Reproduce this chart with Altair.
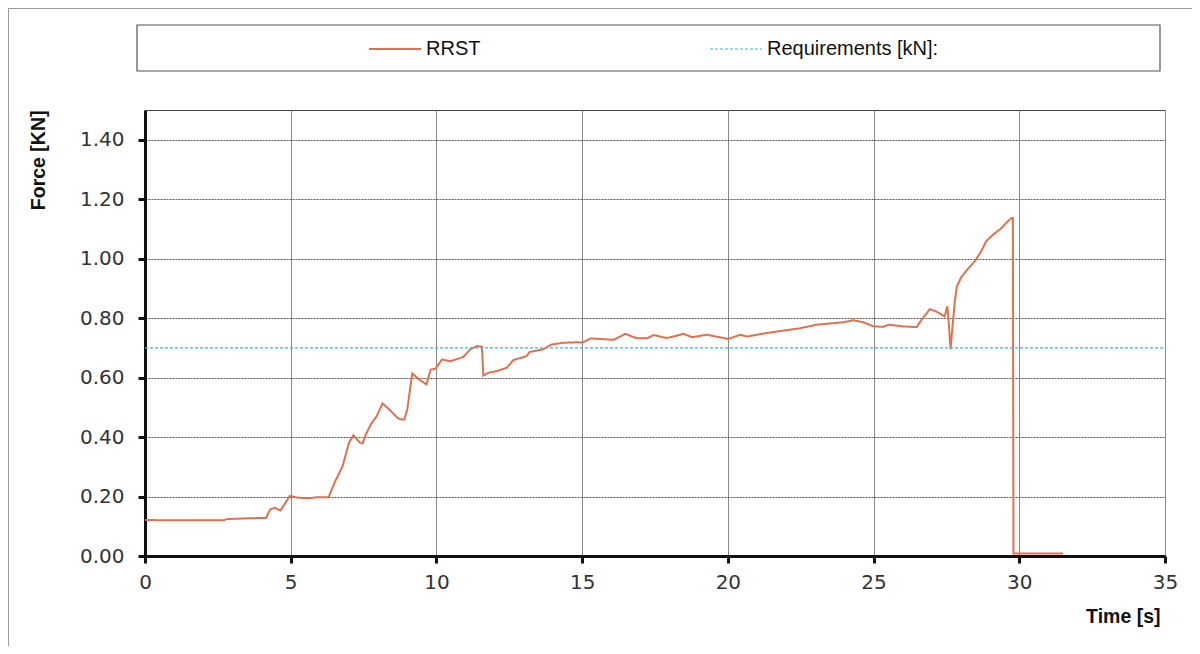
import altair as alt
import pandas as pd

# --- data ---
time_s = [0, 1, 2, 2.7, 2.8, 3.6, 4.15, 4.3, 4.45, 4.65, 4.97, 5.25, 5.6, 5.95, 6.3,
          6.5, 6.78, 7.0, 7.15, 7.38, 7.47, 7.58, 7.75, 7.95, 8.15, 8.38, 8.66, 8.75,
          8.9, 9.0, 9.17, 9.4, 9.66, 9.8, 9.97, 10.19, 10.48, 10.7, 10.93, 11.16, 11.39,
          11.56, 11.61, 11.78, 12.07, 12.41, 12.64, 13.09, 13.2, 13.66, 13.94, 14.34,
          14.9, 15.0, 15.29, 16.08, 16.48, 16.88, 17.23, 17.45, 17.9, 18.25, 18.48,
          18.77, 19.28, 20.02, 20.42, 20.65, 21.34, 21.9, 22.48, 23.05, 23.96, 24.3,
          24.65, 25.0, 25.34, 25.51, 26.02, 26.48, 26.65, 26.93, 27.16, 27.44, 27.53,
          27.58, 27.64, 27.7, 27.78, 27.86, 28.01, 28.24, 28.47, 28.69, 28.86, 29.09,
          29.38, 29.6, 29.74, 29.78, 29.8, 31.5]
rrst_kn = [0.121, 0.12, 0.12, 0.12, 0.124, 0.127, 0.128, 0.157, 0.162, 0.153, 0.202,
           0.196, 0.194, 0.198, 0.198, 0.246, 0.302, 0.381, 0.406, 0.381, 0.379, 0.409,
           0.443, 0.47, 0.513, 0.493, 0.465, 0.46, 0.459, 0.493, 0.614, 0.594, 0.577,
           0.627, 0.63, 0.661, 0.655, 0.662, 0.67, 0.695, 0.706, 0.704, 0.607, 0.616,
           0.622, 0.633, 0.659, 0.672, 0.686, 0.695, 0.711, 0.717, 0.719, 0.717, 0.732,
           0.727, 0.747, 0.732, 0.732, 0.743, 0.733, 0.741, 0.747, 0.736, 0.744, 0.73,
           0.744, 0.738, 0.75, 0.758, 0.766, 0.778, 0.786, 0.793, 0.786, 0.772, 0.771,
           0.778, 0.772, 0.77, 0.795, 0.83, 0.822, 0.806, 0.84, 0.785, 0.695, 0.762,
           0.85, 0.907, 0.938, 0.966, 0.991, 1.024, 1.058, 1.08, 1.102, 1.125, 1.137,
           1.137, 0.008, 0.008]
req_time = [0, 35]
req_kn = [0.70, 0.70]

series_names = ["RRST", "Requirements [kN]:"]
series_colors = ["#DE7150", "#3FB4D8"]

x_ticks = [0, 5, 10, 15, 20, 25, 30, 35]
y_ticks = [0, 0.2, 0.4, 0.6, 0.8, 1.0, 1.2, 1.4]

df = pd.concat([
    pd.DataFrame({"t": time_s, "v": rrst_kn, "s": series_names[0]}),
    pd.DataFrame({"t": req_time, "v": req_kn, "s": series_names[1]}),
], ignore_index=True)

one = pd.DataFrame({"k": [0]})

lines = alt.Chart(df).mark_line(interpolate="linear").encode(
    x=alt.X("t:Q",
            scale=alt.Scale(domain=[0, 35], nice=False),
            axis=alt.Axis(values=x_ticks, title="Time [s]", format="d",
                          labelFlush=False,
                          titleAnchor="end", titleAlign="right", titleX=1015,
                          titleY=60, titleBaseline="middle")),
    y=alt.Y("v:Q",
            scale=alt.Scale(domain=[0, 1.5], nice=False),
            axis=alt.Axis(values=y_ticks, format=".2f", title="Force [KN]",
                          labelFlush=False,
                          titleAnchor="end", titleAlign="right", titleAngle=-90,
                          titleX=-107, titleY=0, titleBaseline="middle",
                          gridDash=[2, 1], gridColor="#555555")),
    color=alt.Color("s:N", scale=alt.Scale(domain=series_names, range=series_colors),
                    legend=alt.Legend(title=None)),
    strokeDash=alt.StrokeDash("s:N", scale=alt.Scale(domain=series_names,
                                                     range=[[1, 0], [3, 2]]),
                              legend=alt.Legend(title=None)),
    strokeWidth=alt.StrokeWidth("s:N", scale=alt.Scale(domain=series_names,
                                                       range=[2, 1.2]),
                                legend=alt.Legend(title=None)),
    order=alt.Order("t:Q"),
)

legend_box = alt.Chart(one).mark_rect(fill="white", fillOpacity=0, stroke="#555555",
                                      strokeWidth=1.2).encode(
    x=alt.value(-8), x2=alt.value(1015), y=alt.value(-85), y2=alt.value(-39))

frame_left = alt.Chart(one).mark_rule(color="#9a9a9a", strokeWidth=1).encode(
    x=alt.value(-136.5), y=alt.value(-101.5), y2=alt.value(560))
frame_top = alt.Chart(one).mark_rule(color="#9a9a9a", strokeWidth=1).encode(
    x=alt.value(-136.5), x2=alt.value(1060), y=alt.value(-101.5))

chart = alt.layer(frame_left, frame_top, legend_box, lines).properties(
    width=1020, height=446,
    autosize=alt.AutoSizeParams(type="none"),
    padding={"left": 137, "top": 102, "right": 27, "bottom": 90},
).configure_view(
    stroke="#444444", strokeWidth=1
).configure_axis(
    labelFont="DejaVu Sans", labelFontSize=20, labelColor="#333333",
    titleFont="Liberation Sans", titleFontSize=19.5, titleFontWeight="bold",
    titleColor="#111111",
    domainColor="#111111", domainWidth=3,
    tickColor="#111111", tickWidth=3, tickSize=7,
    gridColor="#8a8a8a", gridWidth=1, gridOpacity=1,
).configure_axisX(
    labelPadding=9,
).configure_axisY(
    labelPadding=14,
).configure_legend(
    orient="none", legendX=223, legendY=-88, direction="horizontal",
    symbolType="stroke", symbolSize=2704, labelFont="Liberation Sans",
    labelFontSize=20, labelColor="#111111", labelOffset=4, columnPadding=226,
    padding=0, labelLimit=400,
)

chart.save("out.html", embed_options={"renderer": "svg", "actions": False})
